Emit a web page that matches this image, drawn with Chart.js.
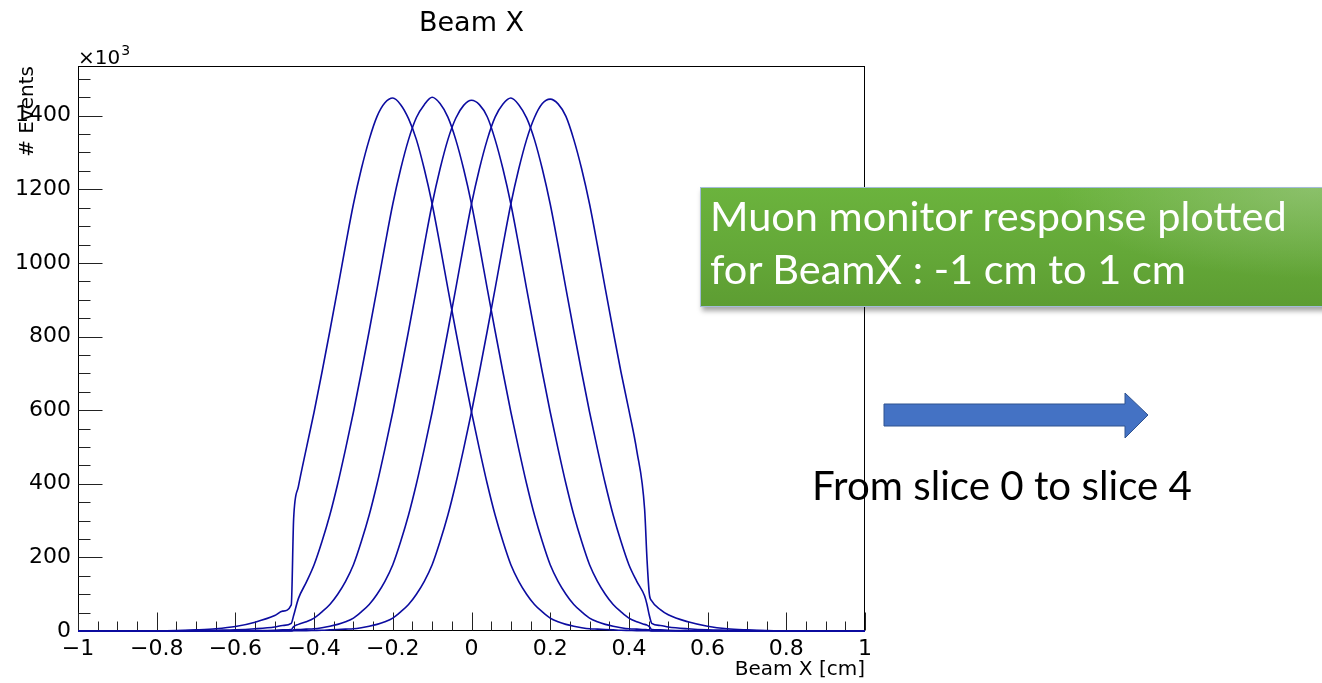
<!DOCTYPE html>
<html>
<head>
<meta charset="utf-8">
<script src="https://cdn.jsdelivr.net/npm/chart.js@4.4.1/dist/chart.umd.min.js"></script>
<style>
html,body{margin:0;padding:0;background:#fff;}
body{width:1322px;height:683px;overflow:hidden;position:relative;}
#c{position:absolute;left:0;top:0;}
#box{position:absolute;left:700px;top:187px;width:640px;height:120px;box-sizing:border-box;
  border:1px solid #a3bcd9;box-shadow:2px 4px 5px rgba(0,0,0,0.35);
  background:radial-gradient(ellipse 260px 90px at 96% 0%, rgba(170,205,150,0.5), rgba(170,205,150,0) 100%),
             linear-gradient(180deg,#6bb33d 0%,#64a838 55%,#5d9d32 100%);
  color:#fff;font-family:Lato,"Open Sans",sans-serif;font-size:41.5px;line-height:53px;padding:1px 0 0 9px;white-space:nowrap;}
#slice{position:absolute;left:812px;top:461px;font-family:Lato,"Open Sans",sans-serif;font-size:40.3px;line-height:48px;color:#000;white-space:nowrap;}
#arrow{position:absolute;left:0;top:0;}
</style>
</head>
<body>
<canvas id="c" width="1322" height="683"></canvas>
<div id="box">Muon monitor response plotted<br>for BeamX : -1 cm to 1 cm</div>
<svg id="arrow" width="1322" height="683"><polygon points="884,404 1125,404 1125,393 1148,415 1125,438 1125,426 884,426" fill="#4472c4" stroke="#2f528f" stroke-width="1"/></svg>
<div id="slice">From slice 0 to slice 4</div>
<script>
// Beam X positions (cm) at which the histograms were read
const beamX = [-1, -0.9, -0.8, -0.75, -0.7, -0.65, -0.6, -0.55, -0.5, -0.48, -0.458, -0.452,
  -0.44, -0.42, -0.40, -0.38, -0.36, -0.34, -0.32, -0.30, -0.28, -0.26,
  -0.24, -0.22, -0.20, -0.18, -0.16, -0.14, -0.12, -0.10, -0.08, -0.06,
  -0.04, -0.02, 0, 0.02, 0.04, 0.06, 0.08, 0.10, 0.12, 0.14,
  0.16, 0.18, 0.20, 0.22, 0.24, 0.26, 0.28, 0.30, 0.32, 0.34,
  0.36, 0.38, 0.40, 0.42, 0.44, 0.446, 0.452, 0.458,
  0.48, 0.5, 0.55, 0.6, 0.65, 0.7, 0.75, 0.8, 0.9, 1];

// # Events (x10^3) for each slice
const slice0 = [0,0,0.5,1,3,6,12,24,42,54,71,305,
  392,495,595,703,815,930,1048,1160,1255,1335,
  1398,1435,1448,1430,1392,1335,1255,1160,1048,930,
  815,703,595,495,400,315,243,180,135,100,
  72,52,35,25,18,13,9,6,5,4,
  3,2,1.5,1,0.7,0.6,0.5,0.2,
  0.1,0,0,0,0,0,0,0,0,0];
const slice1 = [0,0,0,0.3,1,2,3,6,11,15,21,42,
  88,132,180,243,315,400,495,595,703,815,
  930,1048,1160,1255,1335,1395,1430,1450,1433,1396,
  1335,1255,1160,1048,930,815,703,595,495,400,
  315,243,180,135,100,72,52,35,25,18,
  13,9,6,5,4,3.5,3,1,
  0.8,0.5,0.3,0,0,0,0,0,0,0];
const slice2 = [0,0,0,0,0.2,0.4,0.6,1,2,3,4,12,
  18,25,35,52,72,100,135,180,243,315,
  400,495,595,703,815,930,1048,1160,1255,1335,
  1393,1428,1442,1430,1397,1335,1255,1160,1048,930,
  815,703,595,495,400,315,243,180,135,100,
  72,52,35,25,18,16,12,4,
  3,2,1,0.6,0.4,0.2,0,0,0,0];
const slice3 = [0,0,0,0,0,0,0,0,0.3,0.5,0.8,3,
  4,5,6,9,13,18,25,35,52,72,
  100,135,180,243,315,400,495,595,703,815,
  930,1048,1160,1255,1335,1396,1432,1448,1430,1394,
  1335,1255,1160,1048,930,815,703,595,495,400,
  315,243,180,135,95,72,42,21,
  15,11,6,3,2,1,0.3,0,0,0];
const slice4 = [0,0,0,0,0,0,0,0,0,0,0,0.5,
  0.7,1,1.5,2,3,4,5,6,9,13,
  18,25,35,52,72,100,135,180,243,315,
  400,495,595,703,815,930,1048,1160,1255,1335,
  1395,1433,1445,1432,1398,1335,1255,1160,1048,930,
  815,703,600,490,330,195,100,82,
  58,44,25,13,6,3,1.2,0.5,0,0];

const sliceNames = ['slice 0','slice 1','slice 2','slice 3','slice 4'];
const xTicks = [-1,-0.8,-0.6,-0.4,-0.2,0,0.2,0.4,0.6,0.8,1];
const yTicks = [0,200,400,600,800,1000,1200,1400];
const X_MIN = -1, X_MAX = 1, Y_MIN = 0, Y_MAX = 1535;
const X_MINOR = 0.05, Y_MINOR = 50;

const FONT = 'DejaVu Sans';
Chart.defaults.font.family = FONT;
Chart.defaults.color = '#000';

const lineColor = '#0c0ca0';
const datasets = [slice0, slice1, slice2, slice3, slice4].map((arr, i) => ({
  label: sliceNames[i],
  data: beamX.map((x, j) => ({x: x, y: arr[j]})),
  borderColor: lineColor,
  borderWidth: 1.6,
  pointRadius: 0,
  fill: false,
  cubicInterpolationMode: 'monotone',
  clip: 3
}));

function fmt(v) {
  if (Math.abs(v) < 1e-9) return '0';
  const s = String(Math.round(Math.abs(v) * 100) / 100);
  return (v < 0 ? '\u2212' : '') + s;
}

const frame = {
  id: 'frame',
  beforeDatasetsDraw(chart) {
    const {ctx, chartArea: a, scales: {x, y}} = chart;
    ctx.save();
    ctx.strokeStyle = '#000';
    ctx.lineWidth = 1;
    const L = Math.round(a.left) + 0.5, R = Math.round(a.right) - 0.5;
    const T = Math.round(a.top) + 0.5, B = Math.round(a.bottom) - 0.5;
    ctx.strokeRect(L, T, R - L, B - T);
    ctx.strokeStyle = '#222';
    ctx.beginPath();
    const nx = Math.round((X_MAX - X_MIN) / X_MINOR);
    for (let k = 0; k <= nx; k++) {
      const v = X_MIN + k * X_MINOR;
      const major = xTicks.some(t => Math.abs(t - v) < 1e-6);
      const px = Math.round(x.getPixelForValue(v)) + 0.5;
      ctx.moveTo(px, B);
      ctx.lineTo(px, B - (major ? 18 : 9));
    }
    const ny = Math.floor((Y_MAX - Y_MIN) / Y_MINOR);
    for (let k = 0; k <= ny; k++) {
      const v = Y_MIN + k * Y_MINOR;
      const major = yTicks.includes(v);
      const py = Math.round(y.getPixelForValue(v)) + 0.5;
      ctx.moveTo(L, py);
      ctx.lineTo(L + (major ? 24 : 12), py);
    }
    ctx.stroke();
    // exponent label
    ctx.fillStyle = '#000';
    ctx.textBaseline = 'alphabetic';
    ctx.textAlign = 'left';
    ctx.font = '20px "' + FONT + '"';
    const base = '\u00d710';
    ctx.fillText(base, a.left, a.top - 2);
    const w = ctx.measureText(base).width;
    ctx.font = '14px "' + FONT + '"';
    ctx.fillText('3', a.left + w + 1, a.top - 11);
    ctx.restore();
  }
};

new Chart(document.getElementById('c'), {
  type: 'line',
  data: {datasets: datasets},
  plugins: [frame],
  options: {
    responsive: false,
    animation: false,
    devicePixelRatio: 1,
    layout: {padding: {left: 0, top: 0, right: 457, bottom: 0}},
    plugins: {
      legend: {display: false},
      tooltip: {enabled: false},
      title: {display: true, text: 'Beam X', fullSize: false, color: '#000',
        font: {family: FONT, size: 27, weight: 'normal', lineHeight: 1.2},
        padding: {top: 8, bottom: 25.6}}
    },
    scales: {
      x: {
        type: 'linear', min: X_MIN, max: X_MAX,
        afterBuildTicks: s => { s.ticks = xTicks.map(v => ({value: v})); },
        afterFit: s => { s.height = 52; s.paddingLeft = 0; s.paddingRight = 0; },
        grid: {display: false, drawTicks: false},
        border: {display: false},
        ticks: {autoSkip: false, maxRotation: 0, minRotation: 0, padding: 5, color: '#000',
          font: {size: 22}, callback: v => fmt(v)},
        title: {display: true, text: 'Beam X [cm]', align: 'end', color: '#000',
          font: {size: 20}, padding: {top: 0, bottom: 1}}
      },
      y: {
        type: 'linear', min: Y_MIN, max: Y_MAX,
        afterBuildTicks: s => { s.ticks = yTicks.map(v => ({value: v})); },
        afterFit: s => { s.width = 78; s.paddingTop = 0; s.paddingBottom = 0; },
        grid: {display: false, drawTicks: false},
        border: {display: false},
        ticks: {autoSkip: false, padding: 7, color: '#000', font: {size: 22}, callback: v => String(v)},
        title: {display: true, text: '# Events', align: 'end', color: '#000',
          font: {size: 20}, padding: {top: 16, bottom: 0}}
      }
    }
  }
});
</script>
</body>
</html>
